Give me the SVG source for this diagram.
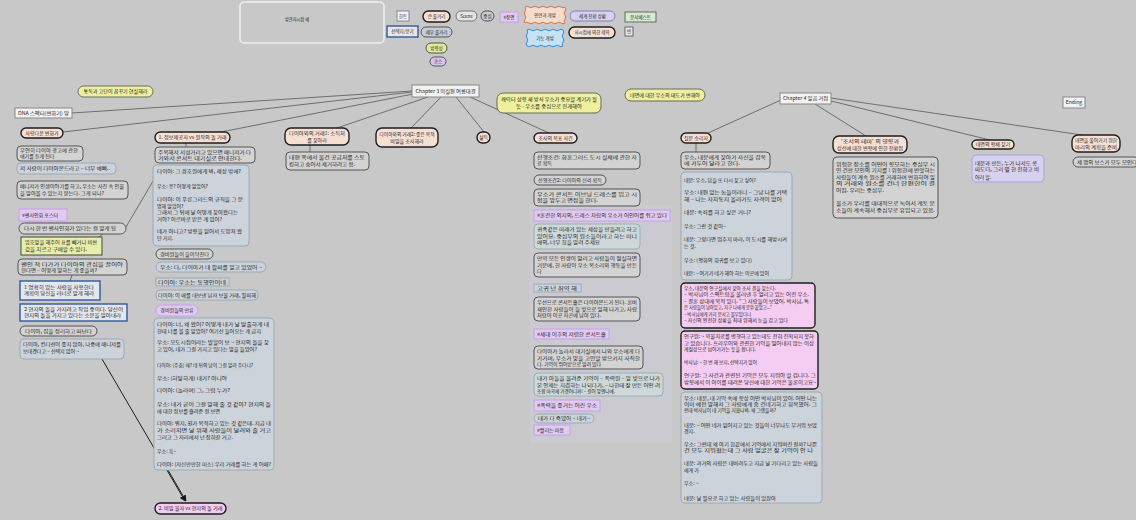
<svg xmlns="http://www.w3.org/2000/svg" width="1136" height="520" viewBox="0 0 1136 520">
<defs>
<style>
.bg{fill:#c8c8c8}
.ln{stroke:#6e6e6e;stroke-width:1;fill:none}
.ar{stroke:#1e1e1e;stroke-width:1;fill:none;marker-end:url(#ah)}
.pk{fill:#f6e0d4;stroke:#1e1e1e;stroke-width:1.4}
.pp{fill:#f5cdf2;stroke:#1e1e1e;stroke-width:1.4}
.gr{fill:#d3d3d3;stroke:#555;stroke-width:1}
.bl{fill:#ccd3da;stroke:#9aaab8;stroke-width:1}
.tl{fill:#cfd8d8;stroke:#98b0b0;stroke-width:1}
.pu{fill:#e1caf1;stroke:#c4a2e6;stroke-width:1}
.lv{fill:#d5d1ee;stroke:#a9a1e2;stroke-width:1}
.ye{fill:#eef09e;stroke:#6a6a5a;stroke-width:1}
.yg{fill:#e6eeaa;stroke:#444;stroke-width:1}
.wh{fill:#f2f2f2;stroke:#888;stroke-width:1}
.bb{fill:#e3e7ed;stroke:#34589a;stroke-width:1.4}
.t{font-family:"Noto Sans CJK KR","Noto Sans",sans-serif;font-size:5px;fill:#262626}
.s{font-size:4.5px}
.c{text-anchor:middle}
</style>
<marker id="ah" viewBox="0 0 10 10" refX="9" refY="5" markerWidth="6" markerHeight="6" orient="auto-start-reverse">
<path d="M0,0L10,5L0,10z" fill="#1a1a1a"/>
</marker>
</defs>

<rect class="bg" width="1136" height="520"/>

<!-- faint panel behind the investigation column -->
<rect x="530" y="205" width="142" height="238" fill="#cbcad1"/>

<!-- connectors -->
<g id="connectors">
<path class="ln" d="M412,91L72,113"/>
<path class="ln" d="M412,92L63,132"/>
<path class="ln" d="M413,94L221,132"/>
<path class="ln" d="M428,97L337,128"/>
<path class="ln" d="M441,97L411,128"/>
<path class="ln" d="M456,97L484,132"/>
<path class="ln" d="M470,97L549,133"/>
<path class="ln" d="M781,100L708,133"/>
<path class="ln" d="M815,104L866,136"/>
<path class="ln" d="M831,101L990,140"/>
<path class="ln" d="M831,98L1082,135"/>
<path class="ln" d="M186,143L186,147"/>
<path class="ln" d="M310,145L310,152"/>
<path class="ln" d="M696,143L696,152"/>
<path class="ln" d="M126,227L156,176"/>
<path class="ln" d="M103,234L99,237"/>
<path class="ln" d="M72,275L70,281"/>
<path class="ar" d="M102,359L185,501"/>
<path class="ar" d="M168,470L186,501"/>
</g>

<!-- title panel -->
<g id="n-title">
<rect x="240" y="2" width="144" height="41" rx="4" fill="none" stroke="#efefef" stroke-width="1.5"/>
<text class="t s" x="285" y="21" textLength="24" lengthAdjust="spacingAndGlyphs">방관자시점 예</text>
</g>

<!-- legend -->
<g id="n-legend-hint"><rect class="wh" x="397" y="11" width="12" height="10"/><text class="t s c" x="403" y="18">힌트</text></g>
<g id="n-legend-plot"><rect class="pk" x="423" y="11" width="27" height="11" rx="5.5"/><text class="t s c" x="436.5" y="18.3">큰 줄거리</text></g>
<g id="n-legend-scene"><rect x="456" y="11" width="21" height="10" rx="5" fill="#e4e4e4" stroke="#777"/><text class="t s c" x="466.5" y="17.8">Scene</text></g>
<g id="n-legend-center"><rect x="481" y="11" width="13" height="10" rx="5" fill="#c3cbd3" stroke="#555"/><text class="t s c" x="487.5" y="17.8">중심</text></g>
<g id="n-legend-tag"><rect class="pu" x="500" y="12" width="18" height="10"/><text class="t s c" x="509" y="18.8">#장면</text></g>
<g id="n-legend-turn">
<path d="M525,7q2,-1.6 4,0t4,0t4,0t4,0t4,0t4,0t4,0t4,0t4,0t4,0q1.6,2 0,4t0,4t0,4t0,4q-2,1.6 -4,0t-4,0t-4,0t-4,0t-4,0t-4,0t-4,0t-4,0t-4,0t-4,0q-1.6,-2 0,-4t0,-4t0,-4t0,-4z" fill="#f6dccb" stroke="#e0704e" stroke-width="1"/>
<text class="t s c" x="545" y="16.5">인연과 개방</text></g>
<g id="n-legend-open">
<path d="M527,30q2,-1.6 4,0t4,0t4,0t4,0t4,0t4,0t4,0t4,0t4,0q1.6,2 0,4t0,4t0,4t0,4q-2,1.6 -4,0t-4,0t-4,0t-4,0t-4,0t-4,0t-4,0t-4,0t-4,0q-1.6,-2 0,-4t0,-4t0,-4t0,-4z" fill="#c6e2f6" stroke="#2f8fe0" stroke-width="1"/>
<text class="t s c" x="545" y="39.8">기능 개방</text></g>
<g id="n-legend-world"><rect x="570" y="11" width="45" height="10" rx="5" fill="#d7d0ec" stroke="#7f7fc0"/><text class="t s c" x="592.5" y="17.8">세계 전환 상황</text></g>
<g id="n-legend-limit"><rect class="pk" x="569" y="27" width="46" height="11" rx="5.5"/><text class="t s c" x="592" y="34.3">사시점에 의한 제약</text></g>
<g id="n-legend-doc"><rect x="625" y="12" width="31" height="10" fill="#d6eacd" stroke="#666"/><text class="t s c" x="640.5" y="18.8">문서베스트</text></g>
<g id="n-legend-empty"><rect x="625" y="27" width="8" height="9" fill="#e8e8e8" stroke="#666"/><text class="t s c" x="629" y="33.3">빈</text></g>
<g id="n-legend-choice"><rect class="bb" x="387" y="26" width="31" height="11" stroke-width="1"/><text class="t s c" x="402.5" y="33.3">선택지/분기</text></g>
<g id="n-legend-detail"><rect x="421" y="27" width="31" height="10" rx="5" fill="#c6ccd5" stroke="#555"/><text class="t s c" x="436.5" y="33.8">세부 줄거리</text></g>
<g id="n-legend-dir"><rect x="426" y="43" width="21" height="10" rx="5" fill="#e2ea9a" stroke="#555"/><text class="t s c" x="436.5" y="49.8">방향성</text></g>
<g id="n-legend-course"><rect x="430" y="57" width="16" height="9" rx="4.5" fill="#dac2f0" stroke="#555"/><text class="t s c" x="438" y="63.3">코스</text></g>

<!-- chapter hubs -->
<g id="n-ch3"><rect class="wh" x="412" y="85" width="67" height="12"/><text class="t c" x="445.5" y="92.8" textLength="60" lengthAdjust="spacingAndGlyphs">Chapter 3 이실편 여름대결</text></g>
<g id="n-ch4"><rect class="wh" x="780" y="93" width="51" height="11"/><text class="t c" x="805.5" y="100.3" textLength="45" lengthAdjust="spacingAndGlyphs">Chapter 4 일곱 거점</text></g>
<g id="n-ending"><rect class="wh" x="1063" y="97" width="22" height="11"/><text class="t c" x="1074" y="104.3">Ending</text></g>

<!-- direction notes -->
<g id="n-dir1"><rect class="ye" x="78" y="86" width="75" height="11" rx="5.5"/><text class="t c" x="115.5" y="93.3" textLength="64" lengthAdjust="spacingAndGlyphs">통독과 고단이 꿈꾸기 현실해라</text></g>
<g id="n-dir2"><rect class="ye" x="497" y="93" width="104" height="20" rx="6"/>
<text class="t c" x="549" y="101.3" textLength="96" lengthAdjust="spacingAndGlyphs">캐릭터 성향 새 방식 우소가 중요할 계기가 될</text>
<text class="t c" x="549" y="108.3" textLength="66" lengthAdjust="spacingAndGlyphs">듯 - 우소를 중심으로 전개해야</text></g>
<g id="n-dir3"><rect class="ye" x="625" y="89" width="80" height="12" rx="6"/><text class="t c" x="665" y="96.8" textLength="70" lengthAdjust="spacingAndGlyphs">내면에 대한 우소의 태도가 변해야</text></g>

<!-- chapter 3 branches -->
<g id="n-dna"><rect class="wh" x="15" y="108" width="57" height="10"/><text class="t" x="18" y="114.8" textLength="51" lengthAdjust="spacingAndGlyphs">DNA 스펙터(변화기) 땅</text></g>
<g id="n-love"><rect class="pk" x="21" y="128" width="42" height="10" rx="5"/><text class="t c" x="42" y="134.8">사랑다운 변화가</text></g>
<g id="n-c3-1"><rect class="pk" x="155" y="132" width="75" height="11" rx="5.5"/><text class="t c" x="192.5" y="139.3" textLength="68" lengthAdjust="spacingAndGlyphs">1. 정보제공자 vs 원작의 돌 거래</text></g>
<g id="n-c3-2"><rect class="pk" x="285" y="128" width="64" height="17" rx="6"/>
<text class="t c" x="317" y="135.3" textLength="56" lengthAdjust="spacingAndGlyphs">다이아와의 거래1: 소득처</text>
<text class="t c" x="317" y="141.5">를 찾아라</text></g>
<g id="n-c3-2a"><rect class="gr" x="286" y="152" width="83" height="18" rx="4"/>
<text class="t" x="289" y="159.3" textLength="76" lengthAdjust="spacingAndGlyphs">내편 쪽에서 물건 공급처를 스토</text>
<text class="t" x="289" y="165.8" textLength="66" lengthAdjust="spacingAndGlyphs">킹하고 숨어서 제거하려고 함.</text></g>
<g id="n-c3-3"><rect class="pk" x="376" y="128" width="62" height="19" rx="6"/>
<text class="t c" x="407" y="136.3" textLength="55" lengthAdjust="spacingAndGlyphs">다이아와의 거래2: 좋은 목적</text>
<text class="t c" x="407" y="142.8">비밀을 조사해라</text></g>
<g id="n-c3-4"><rect class="pk" x="477" y="132" width="13" height="11" rx="5.5"/><text class="t c" x="483.5" y="139.3">설득</text></g>
<g id="n-c3-5"><rect class="pk" x="534" y="133" width="43" height="10" rx="5"/><text class="t c" x="555.5" y="139.8">조사의 목표 사건</text></g>

<!-- column: rumours and poster -->
<g id="n-a1"><rect class="gr" x="17" y="146" width="66" height="15" rx="4"/>
<text class="t" x="20" y="152.3" textLength="58" lengthAdjust="spacingAndGlyphs">우연히 다이아 광고에 관한</text>
<text class="t" x="20" y="158.3">얘기를 듣게 된다</text></g>
<g id="n-a2"><rect class="bl" x="17" y="163" width="99" height="11" rx="4"/><text class="t" x="20" y="170.3" textLength="90" lengthAdjust="spacingAndGlyphs">저 사람이 다이아몬드라고 – 너무 예뻐..</text></g>
<g id="n-a3"><rect class="gr" x="17" y="181" width="111" height="18" rx="4"/>
<text class="t" x="20" y="188.3" textLength="104" lengthAdjust="spacingAndGlyphs">매니저가 인생이야기를 하고, 우소는 사진 속 인물</text>
<text class="t" x="20" y="194.8" textLength="84" lengthAdjust="spacingAndGlyphs">을 알아볼 수 있는지 묻는다. 그게 되나?</text></g>
<g id="n-a4"><rect class="pu" x="19" y="209" width="48" height="12"/><text class="t" x="22" y="216.8">#팬사인회 포스터</text></g>
<g id="n-a5"><rect class="gr" x="19" y="223" width="107" height="11" rx="5.5"/><text class="t" x="24" y="230.3" textLength="92" lengthAdjust="spacingAndGlyphs">다시 한 번 팬사인회가 있다는 걸 알게 됨</text></g>
<g id="n-a6"><rect class="yg" x="21" y="237" width="81" height="18"/>
<text class="t" x="25" y="244.3" textLength="72" lengthAdjust="spacingAndGlyphs">암호말을 해주어 표를 빼거나 비싼</text>
<text class="t" x="25" y="250.8" textLength="62" lengthAdjust="spacingAndGlyphs">값을 치르고 구매할 수 있다.</text></g>
<g id="n-a7"><rect class="gr" x="18" y="259" width="109" height="16" rx="4"/>
<text class="t" x="21" y="265.8" textLength="102" lengthAdjust="spacingAndGlyphs">팬인 척 다가가 다이아의 관심을 끌어야</text>
<text class="t" x="21" y="272.3" textLength="76" lengthAdjust="spacingAndGlyphs">한다면 – 어떻게 말하는 게 좋을까?</text></g>
<g id="n-a8"><rect class="bb" x="20" y="281" width="80" height="19"/>
<text class="t" x="24" y="288.8" textLength="70" lengthAdjust="spacingAndGlyphs">1 명확히 있는 사람을 사용한다</text>
<text class="t" x="24" y="295.3" textLength="70" lengthAdjust="spacingAndGlyphs">계획이 당신을 러너로 알게 해라</text></g>
<g id="n-a9"><rect class="bb" x="20" y="304" width="107" height="17"/>
<text class="t" x="24" y="310.8" textLength="99" lengthAdjust="spacingAndGlyphs">2 현지의 돌을 가지려고 작업 중이다. 당신이</text>
<text class="t" x="24" y="317.3" textLength="97" lengthAdjust="spacingAndGlyphs">현지의 돌을 가지고 있다는 소문을 알아내라</text></g>
<g id="n-a10"><rect class="gr" x="20" y="326" width="77" height="10" rx="5"/><text class="t" x="25" y="332.8" textLength="67" lengthAdjust="spacingAndGlyphs">다이아, 짐을 정리하고 떠난다</text></g>
<g id="n-a11"><rect class="bl" x="20" y="339" width="104" height="20" rx="4"/>
<text class="t" x="23" y="346.3" textLength="98" lengthAdjust="spacingAndGlyphs">다이아, 컨디션이 좋지 않아, 나중에 매니저를</text>
<text class="t" x="23" y="352.8">보내겠다고 – 선택지 없어 ~</text></g>

<!-- column: information broker -->
<g id="n-b1"><rect class="gr" x="155" y="147" width="100" height="16" rx="4"/>
<text class="t" x="158" y="153.8" textLength="93" lengthAdjust="spacingAndGlyphs">주목해서 서성거리고 있으면 매니저가 다</text>
<text class="t" x="158" y="160.3" textLength="84" lengthAdjust="spacingAndGlyphs">가와서 콘서트 대기실로 안내한다.</text></g>
<g id="n-b2"><rect class="bl" x="153" y="165" width="96" height="81" rx="4"/>
<text class="t" x="157" y="173" textLength="84" lengthAdjust="spacingAndGlyphs">다이아: 그 경호원에게 봐, 세상 밖에?</text>
<text class="t" x="157" y="188">우소: 응? 어떻게 알았어?</text>
<text class="t" x="157" y="201" textLength="86" lengthAdjust="spacingAndGlyphs">다이아: 이 푸른그리드의 규칙을 그 분</text>
<text class="t" x="157" y="207.5">명해 알았어?</text>
<text class="t" x="157" y="214" textLength="81" lengthAdjust="spacingAndGlyphs">그래서 그 뒤에 날 어떻게 찾아왔다는</text>
<text class="t" x="157" y="220.5" textLength="65" lengthAdjust="spacingAndGlyphs">거야? 어르바로 받은 게 없어?</text>
<text class="t" x="157" y="233" textLength="85" lengthAdjust="spacingAndGlyphs">네가 아니고? 방향을 잃어서 도망쳐 왔</text>
<text class="t" x="157" y="239.5">던 거지.</text></g>
<g id="n-b3"><rect class="gr" x="156" y="249" width="57" height="10" rx="5" stroke="#333"/><text class="t" x="160" y="255.8" textLength="49" lengthAdjust="spacingAndGlyphs">경비원들이 들이닥친다</text></g>
<g id="n-b4"><rect class="bl" x="156" y="262" width="110" height="10" rx="5"/><text class="t" x="160" y="268.8" textLength="102" lengthAdjust="spacingAndGlyphs">우소: 다, 다이아가 내 팔찌를 알고 있었어 ~</text></g>
<g id="n-b5"><rect class="bl" x="156" y="278" width="73" height="8"/><text class="t" x="158" y="283.8" textLength="68" lengthAdjust="spacingAndGlyphs">다이아: 우소는 동행인이네</text></g>
<g id="n-b6"><rect class="bl" x="156" y="290" width="102" height="10" rx="4"/><text class="t" x="158" y="296.8" textLength="98" lengthAdjust="spacingAndGlyphs">다이아: 이 애를 내보낸 남자 보물 거래, 팔찌해</text></g>
<g id="n-b7"><rect class="pu" x="156" y="305" width="42" height="11" rx="5.5"/><text class="t c" x="177" y="312.3">경비원들의 만류</text></g>
<g id="n-b8"><rect class="bl" x="154" y="318" width="120" height="152" rx="4"/>
<text class="t" x="157" y="326" textLength="112" lengthAdjust="spacingAndGlyphs">다이아: 너, 왜 왔어? 어떻게 내가 날 탈출하게 내</text>
<text class="t" x="157" y="332.5" textLength="104" lengthAdjust="spacingAndGlyphs">한테 너를 볼 줄 알았어? 여기선 들어오는 게 금지</text>
<text class="t" x="157" y="344" textLength="112" lengthAdjust="spacingAndGlyphs">우소: 오도시점이라는 발할이 보 ~ 현지의 돌을 찾</text>
<text class="t" x="157" y="351" textLength="100" lengthAdjust="spacingAndGlyphs">고 있어, 내가 그걸 가지고 있다는 말을 들었어?</text>
<text class="t" x="157" y="367" textLength="96" lengthAdjust="spacingAndGlyphs">다이아: (주춤) 왜? 네 뒤의 남이 그걸 알려 주다니?</text>
<text class="t" x="157" y="380" textLength="70" lengthAdjust="spacingAndGlyphs">우소: (허탈하게) 내가? 아니야</text>
<text class="t" x="157" y="392" textLength="73" lengthAdjust="spacingAndGlyphs">다이아: (놀라며) 그, 그럼 누가?</text>
<text class="t" x="157" y="406" textLength="114" lengthAdjust="spacingAndGlyphs">우소: 내가 굳이 그걸 말해 줄 것 같아? 현지의 돌</text>
<text class="t" x="157" y="412.5" textLength="63" lengthAdjust="spacingAndGlyphs">에 대한 정보를 흘려준 걸 보면</text>
<text class="t" x="157" y="425" textLength="114" lengthAdjust="spacingAndGlyphs">다이아: 뭐지, 뭔가 목적하고 있는 것 같은데. 지금 내</text>
<text class="t" x="157" y="432" textLength="114" lengthAdjust="spacingAndGlyphs">가 소리치면 날 위해 사람들이 달려와 줄 거고</text>
<text class="t" x="157" y="439" textLength="76" lengthAdjust="spacingAndGlyphs">그러고 그 자리에서 넌 잡혀갈 거고.</text>
<text class="t" x="157" y="453">우소: 흑~</text>
<text class="t" x="157" y="466" textLength="114" lengthAdjust="spacingAndGlyphs">다이아: (자신만만한 미소) 우리 거래를 하는 게 어때?</text></g>
<g id="n-c3-next"><rect class="pp" x="155" y="503" width="71" height="11" rx="5.5"/><text class="t c" x="190.5" y="510.3" textLength="64" lengthAdjust="spacingAndGlyphs">2. 비밀 물자 vs 현지의 돌 거래</text></g>

<!-- column: investigation target -->
<g id="n-d1"><rect class="gr" x="534" y="152" width="106" height="17" rx="4"/>
<text class="t" x="537" y="158.8" textLength="100" lengthAdjust="spacingAndGlyphs">선행조건: 화혼그리드 도시 실체에 관한 자</text>
<text class="t" x="537" y="165.3">료 획득</text></g>
<g id="n-d2"><rect class="gr" x="534" y="175" width="72" height="10" rx="5"/><text class="t" x="538" y="181.8" textLength="64" lengthAdjust="spacingAndGlyphs">선행조건2: 다이아의 신뢰 획득</text></g>
<g id="n-d3"><rect class="gr" x="534" y="189" width="106" height="17" rx="4"/>
<text class="t" x="537" y="195.8" textLength="100" lengthAdjust="spacingAndGlyphs">우소가 콘서트 이브닝 드레스를 입고 시</text>
<text class="t" x="537" y="202.3" textLength="61" lengthAdjust="spacingAndGlyphs">험을 앞두고 면접을 한다.</text></g>
<g id="n-d4"><rect class="pu" x="534" y="210" width="136" height="11"/><text class="t" x="537" y="217.3" textLength="130" lengthAdjust="spacingAndGlyphs">#혼란한 외지의, 드레스 차림의 우소가 어인어를 쥐고 있다</text></g>
<g id="n-d5"><rect class="tl" x="534" y="224" width="106" height="25" rx="4"/>
<text class="t" x="537" y="231" textLength="100" lengthAdjust="spacingAndGlyphs">귀족같은 미래가 있는 세상을 만들려고 하고</text>
<text class="t" x="537" y="237.5" textLength="100" lengthAdjust="spacingAndGlyphs">있어요. 중심부의 원소들이라고 하는 미니</text>
<text class="t" x="537" y="244" textLength="63" lengthAdjust="spacingAndGlyphs">애의, 너무 힘을 알려 주세요</text></g>
<g id="n-d6"><rect class="gr" x="534" y="253" width="106" height="24" rx="4"/>
<text class="t" x="537" y="260" textLength="100" lengthAdjust="spacingAndGlyphs">만약 모든 인생이 말리고 사람들이 절실하면</text>
<text class="t" x="537" y="266.5" textLength="100" lengthAdjust="spacingAndGlyphs">기분에, 한 사람이 우소 목소리와 행동을 만든</text>
<text class="t" x="537" y="273">다</text></g>
<g id="n-d7"><rect class="bl" x="534" y="284" width="47" height="8"/><text class="t" x="537" y="289.8" textLength="40" lengthAdjust="spacingAndGlyphs">고귀 넌 취약 해</text></g>
<g id="n-d8"><rect class="gr" x="534" y="297" width="106" height="24" rx="4"/>
<text class="t" x="537" y="304" textLength="100" lengthAdjust="spacingAndGlyphs">우선으로 콘서트홀은 다이아몬드가 된다. 혼버</text>
<text class="t" x="537" y="310.5" textLength="100" lengthAdjust="spacingAndGlyphs">재인한 사람들이 들 빛으로 일해 나가고, 사람</text>
<text class="t" x="537" y="317" textLength="64" lengthAdjust="spacingAndGlyphs">처럼이 이곳 자곤에 남아 있다.</text></g>
<g id="n-d9"><rect class="pu" x="534" y="329" width="75" height="10"/><text class="t" x="537" y="335.8" textLength="69" lengthAdjust="spacingAndGlyphs">#세대 이후의 저렴한 콘서트홀</text></g>
<g id="n-d10"><rect class="gr" x="534" y="346" width="109" height="23" rx="4"/>
<text class="t" x="537" y="353" textLength="103" lengthAdjust="spacingAndGlyphs">다이아가 놀라서 대기실에서 나와 우소에게 다</text>
<text class="t" x="537" y="359.5" textLength="103" lengthAdjust="spacingAndGlyphs">가가며, 우소가 맞을 고민할 방으키지 사직한</text>
<text class="t" x="537" y="366" textLength="64" lengthAdjust="spacingAndGlyphs">다. 기억이 뛰어받으로 알려 있다</text></g>
<g id="n-d11"><rect class="tl" x="534" y="373" width="129" height="23" rx="4"/>
<text class="t" x="537" y="380" textLength="123" lengthAdjust="spacingAndGlyphs">내가 아들을 물려준 기억이 – 폭력원 – 알 빛으로 나가</text>
<text class="t" x="537" y="386.5" textLength="123" lengthAdjust="spacingAndGlyphs">본 언제는 지겹하는 나되다가, – 나한테 잘 만든 어떤 려</text>
<text class="t" x="537" y="393" textLength="78" lengthAdjust="spacingAndGlyphs">조합 마곡에 가겠어니까! – 걸어 앞엔나에.</text></g>
<g id="n-d12"><rect class="pu" x="534" y="400" width="66" height="11"/><text class="t" x="537" y="407.3" textLength="60" lengthAdjust="spacingAndGlyphs">#폭력을 좋거는 어린 우소</text></g>
<g id="n-d13"><rect class="bl" x="534" y="414" width="60" height="9" rx="4.5"/><text class="t" x="538" y="420.3" textLength="52" lengthAdjust="spacingAndGlyphs">내가 다 죽였어 ~ 내가~</text></g>
<g id="n-d14"><rect class="pu" x="534" y="425" width="36" height="10"/><text class="t" x="537" y="431.8">#빨리는 마음</text></g>

<!-- chapter 4 branches -->
<g id="n-c4-1"><rect class="pk" x="681" y="133" width="30" height="10" rx="5"/><text class="t c" x="696" y="139.8">질문 승리자</text></g>
<g id="n-c4-2"><rect class="pk" x="833" y="136" width="74" height="17" rx="6"/>
<text class="t c" x="870" y="143.3" textLength="58" lengthAdjust="spacingAndGlyphs">'조서의 테마' 의 영향과</text>
<text class="t c" x="870" y="149.8" textLength="66" lengthAdjust="spacingAndGlyphs">상선에 대한 변형에 인한 전환점</text></g>
<g id="n-c4-3"><rect class="pk" x="972" y="140" width="42" height="9" rx="4.5"/><text class="t c" x="993" y="146.3">내면의 형체 찾기</text></g>
<g id="n-c4-4"><rect class="pk" x="1072" y="135" width="48" height="17" rx="6"/>
<text class="t c" x="1096" y="142.3" textLength="42" lengthAdjust="spacingAndGlyphs">내면을 풀어가기 위한</text>
<text class="t c" x="1096" y="148.8" textLength="42" lengthAdjust="spacingAndGlyphs">마리의 계획을 준비</text></g>

<!-- column: asking the superior -->
<g id="n-e1"><rect class="gr" x="681" y="152" width="89" height="17" rx="4"/>
<text class="t" x="684" y="158.8" textLength="82" lengthAdjust="spacingAndGlyphs">우소, 내분에게 찾아가 자신을 감옥</text>
<text class="t" x="684" y="165.3" textLength="56" lengthAdjust="spacingAndGlyphs">에 가두어 달라고 한다.</text></g>
<g id="n-e2"><rect class="bl" x="681" y="172" width="111" height="108" rx="4"/>
<text class="t" x="684" y="182" textLength="72" lengthAdjust="spacingAndGlyphs">내분: 우소, 답을 또 다시 찾고 싶어?</text>
<text class="t" x="684" y="194" textLength="103" lengthAdjust="spacingAndGlyphs">우소: 내편 없는 놈들이라니 – 그냥 나를 가택</text>
<text class="t" x="684" y="201" textLength="98" lengthAdjust="spacingAndGlyphs">해 – 나는 자치동지 올라가도 자격이 없어</text>
<text class="t" x="684" y="214" textLength="67" lengthAdjust="spacingAndGlyphs">내분: 속죄를 하고 싶은 거니?</text>
<text class="t" x="684" y="228" textLength="42" lengthAdjust="spacingAndGlyphs">우소: 그런 것 같아~</text>
<text class="t" x="684" y="241" textLength="103" lengthAdjust="spacingAndGlyphs">내분: 그렇다면 멈추지 마라, 이 도시를 해방시켜</text>
<text class="t" x="684" y="248">는 것.</text>
<text class="t" x="684" y="262" textLength="68" lengthAdjust="spacingAndGlyphs">우소: (평화의 회귀를 보고 있다)</text>
<text class="t" x="684" y="275" textLength="85" lengthAdjust="spacingAndGlyphs">내분: ~ 여기가 네가 해야 하는 이곳에 있어</text></g>
<g id="n-e3"><rect class="pp" x="681" y="283" width="134" height="45" rx="4"/>
<text class="t" x="684" y="289.5" textLength="92" lengthAdjust="spacingAndGlyphs">우소, 내분의 연구실에서 찾아 조사 결을 찾는다.</text>
<text class="t" x="684" y="296" textLength="125" lengthAdjust="spacingAndGlyphs">– 박사님이 스펙트럼을 불러낸 후 열리고 있는 어린 우소.</text>
<text class="t" x="684" y="302.5" textLength="125" lengthAdjust="spacingAndGlyphs">– 결혼 상대에 목적 있다. "그 사람들이 보였어. 박사님, 특</text>
<text class="t" x="684" y="309" textLength="88" lengthAdjust="spacingAndGlyphs">은 사람들이 남아있고, 지구 나에게 분위 붙었고..."</text>
<text class="t" x="684" y="315.5" textLength="67" lengthAdjust="spacingAndGlyphs">– 박사님에게 가지 분서고 몰부있다니</text>
<text class="t" x="684" y="322" textLength="104" lengthAdjust="spacingAndGlyphs">– 자신의 완전한 상황을 최대 위해서 눈을 감고 있다</text></g>
<g id="n-e4"><rect class="pp" x="681" y="331" width="137" height="58" rx="4"/>
<text class="t" x="684" y="338" textLength="130" lengthAdjust="spacingAndGlyphs">연구원: ~ 약물치료를 병행하고 있는데도 전혀 진척되지 못하</text>
<text class="t" x="684" y="344.5" textLength="130" lengthAdjust="spacingAndGlyphs">고 있습니다. 프라우어와 관련한 기억을 떨어내지 않는 이상</text>
<text class="t" x="684" y="351" textLength="72" lengthAdjust="spacingAndGlyphs">계절상으로 넘어가가는 듯을 합니다.</text>
<text class="t" x="684" y="364" textLength="73" lengthAdjust="spacingAndGlyphs">박사님: ~ 한 번 해 보지, 선택지가 없어</text>
<text class="t" x="684" y="377" textLength="132" lengthAdjust="spacingAndGlyphs">연구원: 그 사건과 관련된 기억은 모두 지워야 할 겁니다. 그</text>
<text class="t" x="684" y="383.5" textLength="132" lengthAdjust="spacingAndGlyphs">방향에서 이 아이를 데려온 당신에 대한 기억은 물론이고요~</text></g>
<g id="n-e5"><rect class="bl" x="681" y="392" width="141" height="111" rx="4"/>
<text class="t" x="684" y="400" textLength="133" lengthAdjust="spacingAndGlyphs">우소: 내분, 내 기억 속에 항상 어떤 박사님이 있어. 어떤 나는</text>
<text class="t" x="684" y="406" textLength="133" lengthAdjust="spacingAndGlyphs">이미 예전 말해서 그 사람에게 좀 건네기하고 회복했어. 그</text>
<text class="t" x="684" y="412" textLength="92" lengthAdjust="spacingAndGlyphs">런데 박사님이 내 기억을 지웠나봐. 왜 그랬을까?</text>
<text class="t" x="684" y="427" textLength="133" lengthAdjust="spacingAndGlyphs">내분: ~ 어떤 네가 잃어지고 있는 것들이 너무나도 무거워 보였</text>
<text class="t" x="684" y="433">겠지.</text>
<text class="t" x="684" y="446" textLength="133" lengthAdjust="spacingAndGlyphs">우소: 그런데 왜 아기 힘끝에서 기억에서 지워버린 걸까? 나쁜</text>
<text class="t" x="684" y="452" textLength="129" lengthAdjust="spacingAndGlyphs">건 모두 지워졌는데 그 사람 얼굴은 잘 기억이 안 나</text>
<text class="t" x="684" y="465" textLength="134" lengthAdjust="spacingAndGlyphs">내분: 과거의 사람은 내버려두고 지금 날 기다리고 있는 사람들</text>
<text class="t" x="684" y="472">에게 가</text>
<text class="t" x="684" y="485">우소: ~</text>
<text class="t" x="684" y="500" textLength="92" lengthAdjust="spacingAndGlyphs">내분: 날 필요로 하고 있는 사람들이 있잖아</text></g>

<!-- column: theme of the report -->
<g id="n-f1"><rect class="gr" x="833" y="157" width="105" height="61" rx="4"/>
<text class="t" x="836" y="165.5" textLength="99" lengthAdjust="spacingAndGlyphs">위험한 장소를 어떤이 향모하는 중심부 시</text>
<text class="t" x="836" y="172" textLength="99" lengthAdjust="spacingAndGlyphs">민 건판 모인의 기지를 ! 위험한에 반앗하는</text>
<text class="t" x="836" y="178.5" textLength="99" lengthAdjust="spacingAndGlyphs">사람들이 계속 원소를 거래하며 변화하여 일</text>
<text class="t" x="836" y="185" textLength="99" lengthAdjust="spacingAndGlyphs">의 거래와 원소를 건너 한편한이 결</text>
<text class="t" x="836" y="191.5" textLength="48" lengthAdjust="spacingAndGlyphs">어짐. 우리는 중심부.</text>
<text class="t" x="836" y="205" textLength="99" lengthAdjust="spacingAndGlyphs">물소가 우리를 대대적으로 녹아서 게토 문</text>
<text class="t" x="836" y="212" textLength="99" lengthAdjust="spacingAndGlyphs">소들이 계속해서 중심부로 유입되고 있음.</text></g>

<!-- column: finding the inner self -->
<g id="n-g1"><rect class="lv" x="972" y="155" width="72" height="27" rx="4"/>
<text class="t" x="975" y="164.5" textLength="62" lengthAdjust="spacingAndGlyphs">내분과 만든, 누가 나서도 콩</text>
<text class="t" x="975" y="171" textLength="64" lengthAdjust="spacingAndGlyphs">따도다, 그리 별 한 전화고 비</text>
<text class="t" x="975" y="178.5">어러 할.</text></g>

<!-- column: the three bosses -->
<g id="n-h1"><rect class="gr" x="1073" y="157" width="66" height="10" rx="5"/><text class="t" x="1077" y="163.8" textLength="60" lengthAdjust="spacingAndGlyphs">세 명의 보스가 모두 모인다</text></g>
</svg>
